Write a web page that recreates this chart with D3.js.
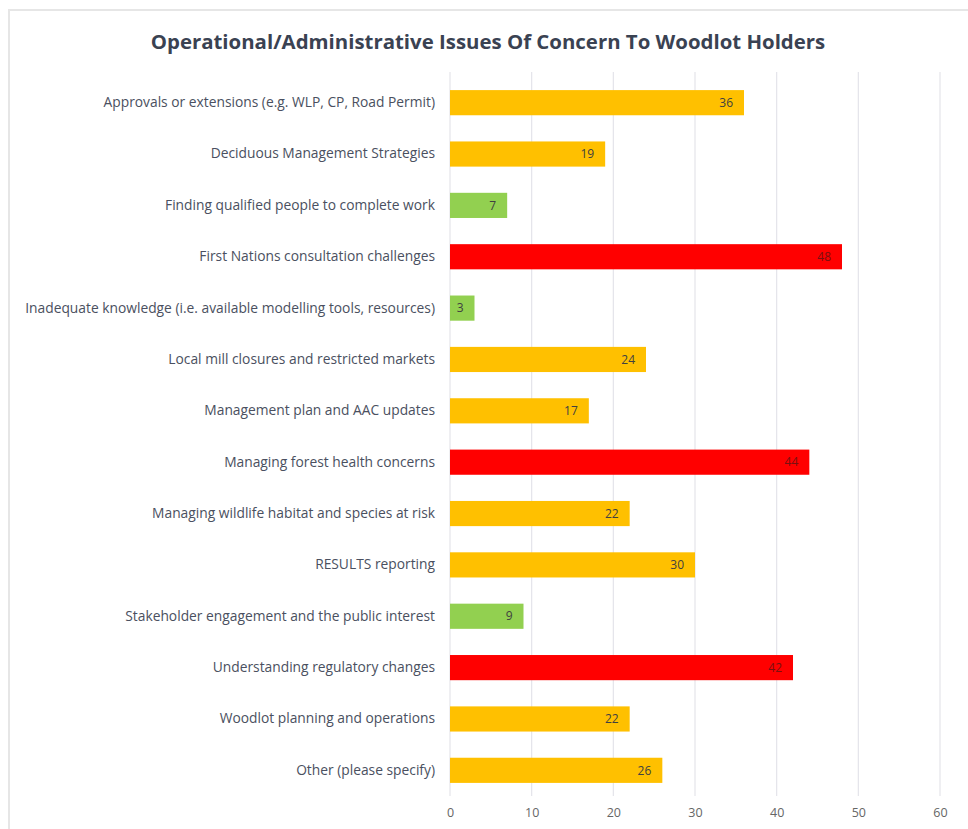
<!DOCTYPE html>
<html>
<head>
<meta charset="utf-8">
<script src="https://cdn.jsdelivr.net/npm/d3@7"></script>
<style>
  body { margin: 0; background: #fff; }
  svg { display: block; }
  .cat text { font-family: "Open Sans", "Liberation Sans", Arial, sans-serif; font-size: 13.8px; fill: #4a5060; }
  .xax text { font-family: "Open Sans", "Liberation Sans", Arial, sans-serif; font-size: 12.5px; fill: #666; }
</style>
</head>
<body>
<div id="chart"></div>
<script>
// issues, top to bottom
var issues = [
  "Approvals or extensions (e.g. WLP, CP, Road Permit)",
  "Deciduous Management Strategies",
  "Finding qualified people to complete work",
  "First Nations consultation challenges",
  "Inadequate knowledge (i.e. available modelling tools, resources)",
  "Local mill closures and restricted markets",
  "Management plan and AAC updates",
  "Managing forest health concerns",
  "Managing wildlife habitat and species at risk",
  "RESULTS reporting",
  "Stakeholder engagement and the public interest",
  "Understanding regulatory changes",
  "Woodlot planning and operations",
  "Other (please specify)"
];
var counts = [36, 19, 7, 48, 3, 24, 17, 44, 22, 30, 9, 42, 22, 26];
// concern level: 'high' red, 'mid' orange, 'low' green
var levels = ["mid", "mid", "low", "high", "low", "mid", "mid", "high", "mid", "mid", "low", "high", "mid", "mid"];
var xTicks = [0, 10, 20, 30, 40, 50, 60];

var W = 968, H = 829;
var margin = {top: 77, right: 28, bottom: 33, left: 450};
var width = W - margin.left - margin.right,
    height = H - margin.top - margin.bottom;

var color = d3.scaleOrdinal()
  .domain(["high", "mid", "low"])
  .range(["#ff0000", "#ffc000", "#92d050"]);

var svg = d3.select("#chart").append("svg")
  .attr("width", W)
  .attr("height", H);

// faint frame (left and top edges only show in the picture)
svg.append("path")
  .attr("d", "M9," + H + "V10H" + W)
  .attr("fill", "none")
  .attr("stroke", "#e6e6e6")
  .attr("stroke-width", 2);

svg.append("text")
  .attr("x", 488)
  .attr("y", 49)
  .attr("text-anchor", "middle")
  .style("font-family", "'Open Sans', 'Liberation Sans', sans-serif")
  .style("font-weight", "bold")
  .style("font-size", "20.4px")
  .style("fill", "#3a4252")
  .text("Operational/Administrative Issues Of Concern To Woodlot Holders");

var g = svg.append("g")
  .attr("transform", "translate(" + margin.left + "," + margin.top + ")");

var x = d3.scaleLinear().domain([0, 60]).range([0, 490]);
var y = d3.scaleBand().domain(issues).range([0, height]).paddingInner(0.51).paddingOuter(0.255);

// gridlines
g.selectAll(".grid")
  .data(xTicks)
  .enter().append("line")
  .attr("class", "grid")
  .attr("x1", function(d) { return x(d); })
  .attr("x2", function(d) { return x(d); })
  .attr("y1", -5)
  .attr("y2", height)
  .attr("stroke", "#e4e4ea")
  .attr("stroke-width", 1.2);

// bars
g.selectAll(".bar")
  .data(issues)
  .enter().append("rect")
  .attr("class", "bar")
  .attr("x", x(0))
  .attr("y", function(d) { return y(d); })
  .attr("width", function(d, i) { return x(counts[i]) - x(0); })
  .attr("height", y.bandwidth())
  .attr("fill", function(d, i) { return color(levels[i]); });

// value labels
g.selectAll(".val")
  .data(issues)
  .enter().append("text")
  .attr("class", "val")
  .attr("x", function(d, i) { return x(counts[i]) - 11; })
  .attr("y", function(d) { return y(d) + y.bandwidth() / 2; })
  .attr("dy", "0.35em")
  .attr("text-anchor", "end")
  .style("font-family", "'Open Sans', 'Liberation Sans', Arial, sans-serif")
  .style("font-size", "12px")
  .style("fill", function(d, i) { return levels[i] == "high" ? "#7a1010" : "#404040"; })
  .text(function(d, i) { return counts[i]; });

// category axis
var yAxis = d3.axisLeft(y).tickSize(0).tickPadding(15);
g.append("g")
  .attr("class", "cat")
  .call(yAxis)
  .call(function(s) { s.select(".domain").remove(); });

// value axis
var xAxis = d3.axisBottom(x).tickValues(xTicks).tickSize(0).tickPadding(12);
g.append("g")
  .attr("class", "xax")
  .attr("transform", "translate(0," + height + ")")
  .call(xAxis)
  .call(function(s) { s.select(".domain").remove(); });
</script>
</body>
</html>
